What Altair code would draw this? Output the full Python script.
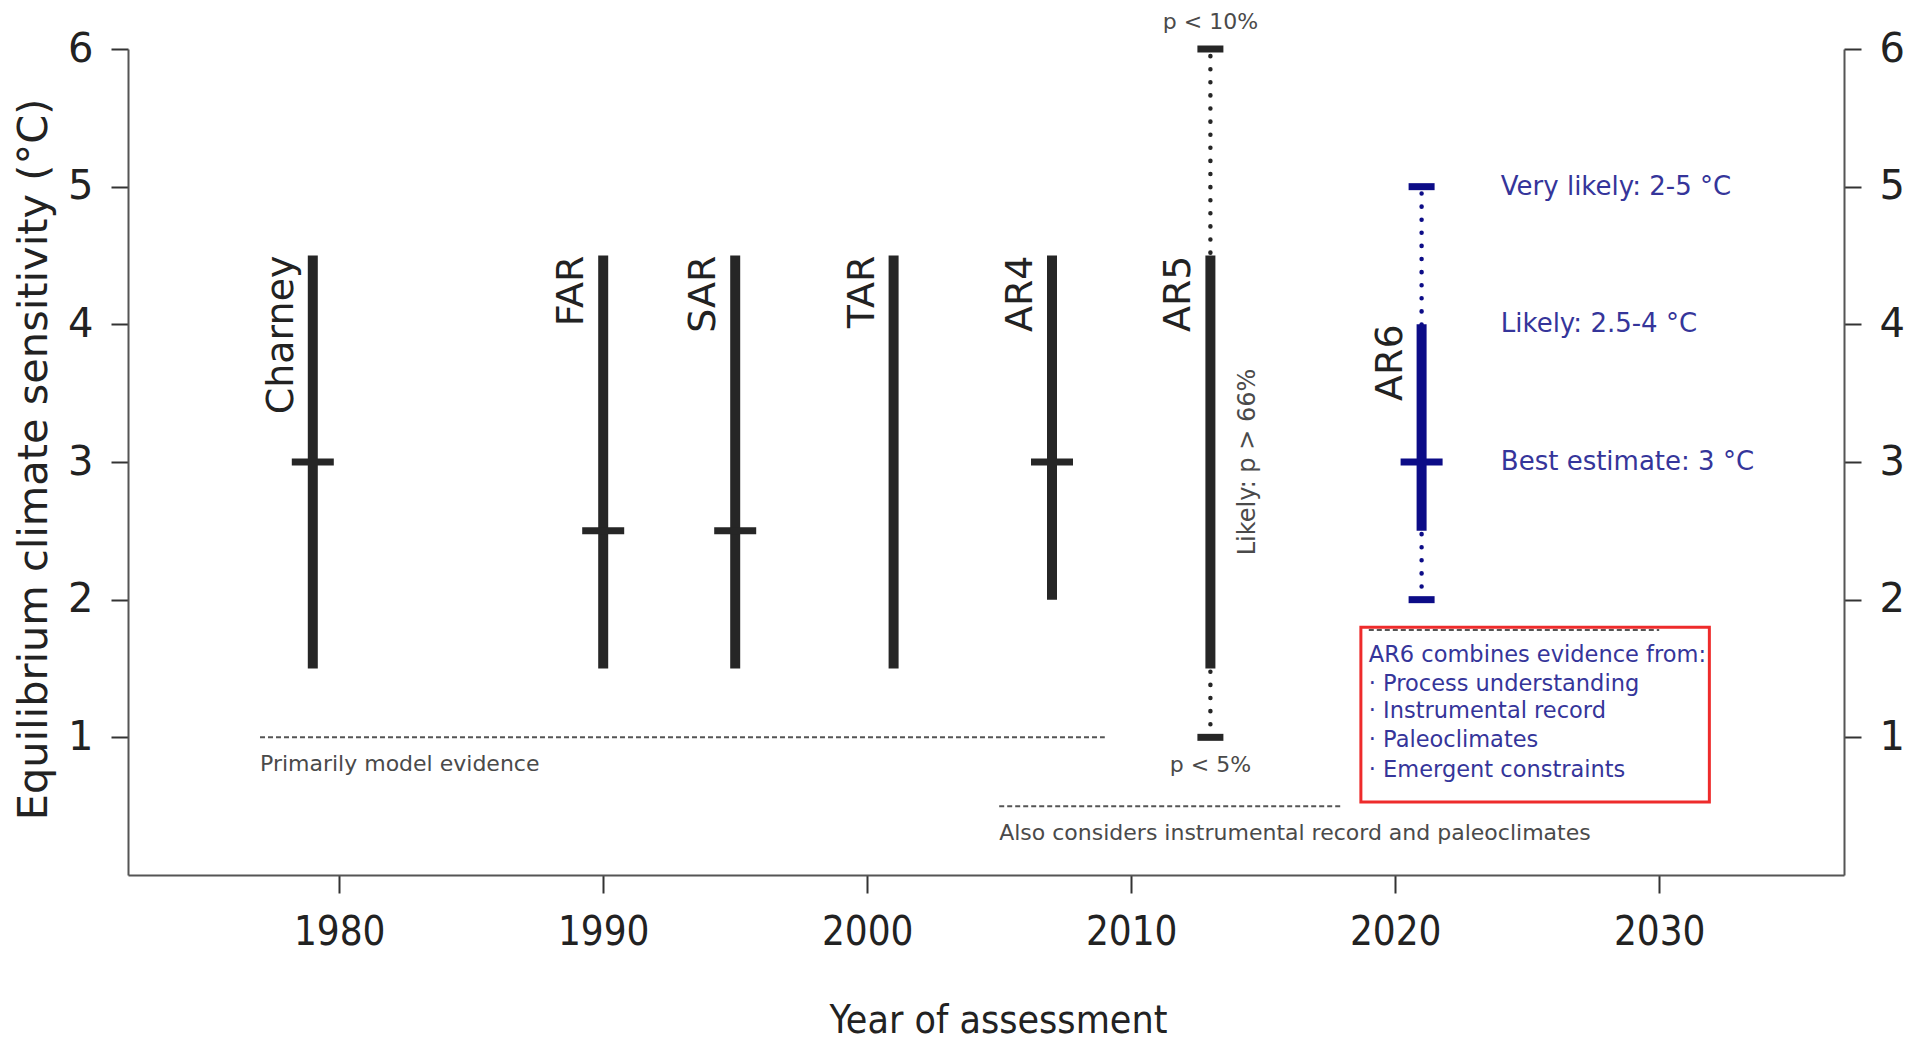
import altair as alt
import pandas as pd

# Equilibrium climate sensitivity ranges from successive assessments
assessments = ["Charney", "FAR", "SAR", "TAR", "AR4", "AR5", "AR6"]
years = [1979, 1990, 1995, 2001, 2007, 2013, 2021]
likely_low = [1.5, 1.5, 1.5, 1.5, 2.0, 1.5, 2.5]
likely_high = [4.5, 4.5, 4.5, 4.5, 4.5, 4.5, 4.0]
best_estimate = [3.0, 2.5, 2.5, None, 3.0, None, 3.0]

# "very likely" ranges, drawn dotted with end caps
vl_names = ["AR5", "AR6"]
vl_years = [2013, 2021]
vl_low = [1.0, 2.0]
vl_high = [6.0, 5.0]

# AR6 range descriptions
ar6_labels = ["Very likely: 2-5 °C", "Likely: 2.5-4 °C", "Best estimate: 3 °C"]
ar6_label_values = [5.0, 4.0, 3.0]
ar6_label_year = 2024

# AR5 probability notes
ar5_notes = ["p < 10%", "p < 5%"]
ar5_note_values = [6.0, 1.0]

# periods of evidence (dashed lines with captions)
evidence_text = ["Primarily model evidence",
                 "Also considers instrumental record and paleoclimates", ""]
evidence_start = [1977, 2005, 2019]
evidence_end = [2009, 2018, 2030]
evidence_level = [1.0, 0.5, 1.78]

# AR6 evidence box
box_years = [2018.7, 2031.9]
box_levels = [0.53, 1.80]
box_lines = ["AR6 combines evidence from:",
             "· Process understanding",
             "· Instrumental record",
             "· Paleoclimates",
             "· Emergent constraints"]
box_line_levels = [1.60, 1.39, 1.19, 0.98, 0.76]
box_text_year = 2019.0

x_ticks = [1980, 1990, 2000, 2010, 2020, 2030]
y_ticks = [1, 2, 3, 4, 5, 6]

NARROW = "'DejaVu Sans Condensed', 'Liberation Sans Narrow', 'DejaVu Sans', sans-serif"
SANS = "'DejaVu Sans', sans-serif"
DARK = "#262626"
NAVY = "#0c0c87"
BLUE_TEXT = "#35359a"
GREY = "#4a4a4a"

W, H = 1716, 826

x_scale = alt.Scale(domain=[1972, 2037], nice=False, zero=False)
y_scale = alt.Scale(domain=[0, 6], nice=False, zero=False)
color_scale = alt.Scale(domain=["past", "AR6"], range=[DARK, NAVY])

df = pd.DataFrame({
    "name": assessments,
    "year": years,
    "low": likely_low,
    "high": likely_high,
    "best": best_estimate,
})
df["group"] = ["AR6" if n == "AR6" else "past" for n in assessments]

vl_df = pd.DataFrame({"name": vl_names, "year": vl_years, "low": vl_low, "high": vl_high})
vl_df["group"] = ["AR6" if n == "AR6" else "past" for n in vl_names]
cap_df = pd.DataFrame({
    "year": vl_years * 2,
    "value": vl_low + vl_high,
    "group": list(vl_df["group"]) * 2,
})

ev_df = pd.DataFrame({"text": evidence_text, "start": evidence_start,
                      "end": evidence_end, "level": evidence_level})
box_df = pd.DataFrame({"x0": [box_years[0]], "x1": [box_years[1]],
                       "y0": [box_levels[0]], "y1": [box_levels[1]]})
box_text_df = pd.DataFrame({"text": box_lines, "level": box_line_levels,
                            "year": [box_text_year] * len(box_lines)})
ar6_df = pd.DataFrame({"text": ar6_labels, "level": ar6_label_values,
                       "year": [ar6_label_year] * len(ar6_labels)})
note_df = pd.DataFrame({"text": ar5_notes, "level": ar5_note_values,
                        "year": [2013] * len(ar5_notes)})
likely_note_df = pd.DataFrame({"text": ["Likely: p > 66%"], "year": [2013], "level": [3.0]})

x_axis = alt.Axis(values=x_ticks, format="d", title="Year of assessment",
                  labelFont=NARROW, labelFontSize=40, labelColor="#222",
                  labelPadding=19, tickSize=18, tickWidth=2, tickColor="#333",
                  domainColor="#555", domainWidth=2, grid=False,
                  titleFont=NARROW, titleFontSize=39, titleFontWeight="normal",
                  titleColor="#222", titleX=W / 2 + 12, titleY=145,
                  titleAlign="center", titleBaseline="middle")
y_axis_left = alt.Axis(values=y_ticks, format="d",
                       title="Equilibrium climate sensitivity (°C)",
                       labelFont=SANS, labelFontSize=40, labelColor="#222",
                       labelPadding=18, tickSize=17, tickWidth=2, tickColor="#333",
                       domainColor="#555", domainWidth=2, grid=False,
                       titleFont=SANS, titleFontSize=41.5, titleFontWeight="normal",
                       titleColor="#222", titleAngle=270, titleX=-94, titleY=H / 2 - 3,
                       titleAlign="center", titleBaseline="middle")
y_axis_right = alt.Axis(values=y_ticks, format="d", orient="right", title=None,
                        labelFont=SANS, labelFontSize=40, labelColor="#222",
                        labelPadding=18, tickSize=17, tickWidth=2, tickColor="#333",
                        domainColor="#555", domainWidth=2, grid=False)

# every layer shares the same x axis definition so the merged axis is kept
X = lambda f="year": alt.X(f"{f}:Q", scale=x_scale, axis=x_axis)
Y = lambda f: alt.Y(f"{f}:Q", scale=y_scale, axis=None)
C = alt.Color("group:N", scale=color_scale, legend=None)

box = alt.Chart(box_df).mark_rect(fill="white", stroke="#ee2b2b", strokeWidth=3).encode(
    x=X("x0"), x2="x1", y=Y("y0"), y2="y1")

ev_lines = alt.Chart(ev_df).mark_rule(strokeDash=[5, 3], strokeWidth=2, color="#555").encode(
    x=X("start"), x2="end", y=Y("level"))
ev_text = alt.Chart(ev_df).mark_text(align="left", baseline="middle", dy=27,
                                     font=SANS, fontSize=22, color=GREY).encode(
    x=X("start"), y=Y("level"), text="text:N")

dotted = alt.Chart(vl_df).mark_rule(strokeDash=[0.1, 13], strokeCap="round",
                                    strokeWidth=4.5).encode(
    x=X(), y=Y("low"), y2="high", color=C)
caps = alt.Chart(cap_df).mark_tick(orient="horizontal", size=26, thickness=7,
                                   opacity=1).encode(
    x=X(), y=Y("value"), color=C)

bars = alt.Chart(df).mark_rule(strokeWidth=10).encode(
    x=X(),
    y=alt.Y("low:Q", scale=y_scale, axis=y_axis_left),
    y2="high", color=C)
best = alt.Chart(df).transform_filter("isValid(datum.best)").mark_tick(
    orient="horizontal", size=42, thickness=7, opacity=1).encode(
    x=X(), y=Y("best"), color=C)

names = alt.Chart(df).mark_text(angle=270, align="right", baseline="alphabetic",
                                dy=-20, font=SANS, fontSize=38, color="#222").encode(
    x=X(), y=Y("high"), text="name:N")

ar6_text = alt.Chart(ar6_df).mark_text(align="left", baseline="middle", font=SANS,
                                       fontSize=26, color=BLUE_TEXT).encode(
    x=X(), y=Y("level"), text="text:N")

notes_top = alt.Chart(note_df).transform_filter("datum.level > 3").mark_text(
    align="center", baseline="middle", dy=-27, font=SANS, fontSize=22,
    color=GREY).encode(x=X(), y=Y("level"), text="text:N")
notes_bottom = alt.Chart(note_df).transform_filter("datum.level < 3").mark_text(
    align="center", baseline="middle", dy=28, font=SANS, fontSize=22,
    color=GREY).encode(x=X(), y=Y("level"), text="text:N")
likely_note = alt.Chart(likely_note_df).mark_text(
    angle=270, align="center", baseline="middle", dy=38, font=SANS, fontSize=24,
    color=GREY).encode(x=X(), y=Y("level"), text="text:N")

box_text = alt.Chart(box_text_df).mark_text(align="left", baseline="middle", font=SANS,
                                            fontSize=22.5, color=BLUE_TEXT).encode(
    x=X(), y=Y("level"), text="text:N")

right_axis = alt.Chart(df).mark_rule(strokeOpacity=0).encode(
    x=X(), y=alt.Y("low:Q", scale=y_scale, axis=y_axis_right))

chart = alt.layer(
    box, ev_lines, ev_text, dotted, caps, bars, best, names, ar6_text,
    notes_top, notes_bottom, likely_note, box_text, right_axis
).resolve_axis(y="independent").properties(
    width=W, height=H,
    autosize=alt.AutoSizeParams(type="none"),
    padding={"left": 128, "top": 49, "right": 1919 - 128 - W, "bottom": 1041 - 49 - H},
    background="white",
).configure_view(stroke=None)

chart.save("out.html", embed_options={"renderer": "svg", "actions": False})
